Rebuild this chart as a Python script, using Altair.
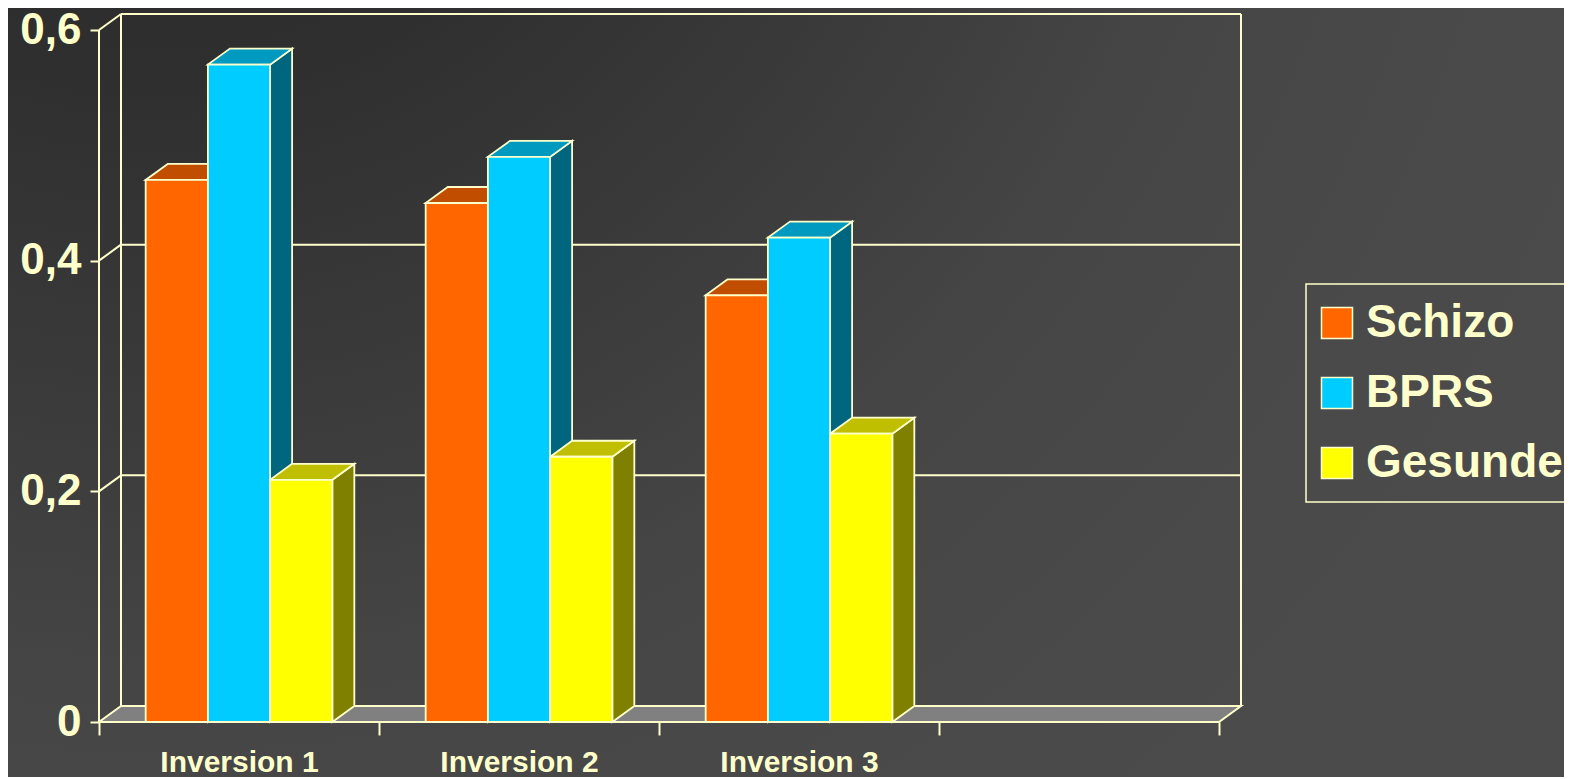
import altair as alt
import pandas as pd

# ---- data ----
CATEGORIES = ["Inversion 1", "Inversion 2", "Inversion 3"]
N_SLOTS = 4
SERIES = ["Schizo", "BPRS", "Gesunde"]
SCHIZO = [0.47, 0.45, 0.37]
BPRS = [0.57, 0.49, 0.42]
GESUNDE = [0.21, 0.23, 0.25]
Y_TICKS = [0, 0.2, 0.4, 0.6]

# ---- style ----
FRONT = ["#FF6600", "#00CCFF", "#FFFF00"]
TOP = ["#C04D00", "#0099BF", "#BFBF00"]
SIDE = ["#803300", "#006680", "#808000"]
LINE = "#FFFFCC"
FONT = "Liberation Sans"

W, H = 1142, 708          # plot area (front axis .. back wall)
PAD = {"left": 91, "top": 6, "right": 323, "bottom": 55}
PX_SLOT = 280.0
PX_UNIT = 1153.3
DX = 22 / PX_SLOT          # depth offset in slot units
DY = 16 / PX_UNIT          # depth offset in value units
XMAX = W / PX_SLOT
YMAX = H / PX_UNIT
BAR_W = 1 / 4.5
BAR_OFF = 0.75 / 4.5

xs = alt.Scale(domain=[0, XMAX], nice=False, zero=False)
ys = alt.Scale(domain=[0, YMAX], nice=False, zero=False)

values = {"Schizo": SCHIZO, "BPRS": BPRS, "Gesunde": GESUNDE}

front_rows, side_rows, top_rows = [], [], []
for si, s in enumerate(SERIES):
    for ci, cat in enumerate(CATEGORIES):
        v = values[s][ci]
        left = ci + BAR_OFF + si * BAR_W
        right = left + BAR_W
        bid = f"{s}-{ci}"
        front_rows.append({"series": s, "cat": cat, "left": left, "right": right, "value": v})
        side_rows += [
            {"series": s, "bar": bid, "x": right, "y": 0.0, "y2": v},
            {"series": s, "bar": bid, "x": right + DX, "y": DY, "y2": v + DY},
        ]
        top_rows += [
            {"series": s, "bar": bid, "y": v, "x": left, "x2": right},
            {"series": s, "bar": bid, "y": v + DY, "x": left + DX, "x2": right + DX},
        ]
front_df = pd.DataFrame(front_rows)
side_df = pd.DataFrame(side_rows)
top_df = pd.DataFrame(top_rows)

# frame: front axis, left wall diagonals, back wall, grid lines
XB = N_SLOTS + DX
ymax_tick = max(Y_TICKS)
seg = [{"x": 0, "y": 0, "x2": 0, "y2": ymax_tick},
       {"x": DX, "y": DY, "x2": DX, "y2": ymax_tick + DY},
       {"x": XB, "y": DY, "x2": XB, "y2": ymax_tick + DY}]
for t in Y_TICKS[1:]:
    seg.append({"x": 0, "y": t, "x2": DX, "y2": t + DY})
    seg.append({"x": DX, "y": t + DY, "x2": XB, "y2": t + DY})
seg_df = pd.DataFrame(seg)

floor_df = pd.DataFrame([
    {"y": 0.0, "x": 0.0, "x2": float(N_SLOTS)},
    {"y": DY, "x": DX, "x2": XB},
])

# ---- shared axes ----
expr_parts = []
for ci, cat in enumerate(CATEGORIES):
    expr_parts.append(f"datum.value == {ci + 0.5} ? '{cat}' : ")
x_label_expr = "".join(expr_parts) + "''"
x_tick_vals = [i * 0.5 for i in range(2 * N_SLOTS + 1)]

XAX = alt.Axis(
    title=None, values=x_tick_vals, domain=False, grid=False, tickSize=13, tickWidth=2,
    tickColor=LINE, zindex=2,
    tickOpacity={"condition": {"test": "datum.value % 1 != 0", "value": 0}, "value": 1},
    labelExpr=x_label_expr, labelFont=FONT, labelFontSize=30, labelFontWeight="bold",
    labelColor=LINE, labelPadding=12, labelOverlap=False, labelFlush=False)
YAX = alt.Axis(
    title=None, values=Y_TICKS, domain=False, grid=False, tickSize=9, tickWidth=2,
    tickColor=LINE, zindex=2,
    labelExpr="datum.value == 0 ? '0' : replace(format(datum.value, '.1f'), '.', ',')",
    labelFont=FONT, labelFontSize=44, labelFontWeight="bold",
    labelColor=LINE, labelPadding=9)

# background (radial gradient across whole canvas)
bg = alt.Chart(pd.DataFrame({"a": [0]})).mark_rect(
    fill=alt.RadialGradient(
        gradient="radial",
        stops=[alt.GradientStop(color="#272727", offset=0),
               alt.GradientStop(color="#2F2F2F", offset=0.3),
               alt.GradientStop(color="#3D3D3D", offset=0.55),
               alt.GradientStop(color="#454545", offset=0.68),
               alt.GradientStop(color="#494949", offset=0.85),
               alt.GradientStop(color="#4B4B4B", offset=1)],
        x1=0.1, y1=0.0, r1=0, x2=0.1, y2=0.0, r2=1.0),
).encode(
    x=alt.value(-PAD["left"]), x2=alt.value(W + PAD["right"]),
    y=alt.value(-PAD["top"]), y2=alt.value(H + PAD["bottom"]),
)

floor = alt.Chart(floor_df).mark_area(
    orient="horizontal", fill="#808080", stroke=LINE, strokeWidth=2
).encode(
    y=alt.Y("y:Q", scale=ys, axis=YAX),
    x=alt.X("x:Q", scale=xs, axis=XAX, stack=None),
    x2="x2:Q",
)

frame = alt.Chart(seg_df).mark_rule(color=LINE, strokeWidth=2).encode(
    x=alt.X("x:Q", scale=xs, axis=XAX),
    x2="x2:Q",
    y=alt.Y("y:Q", scale=ys, axis=YAX),
    y2="y2:Q",
)

sides = alt.Chart(side_df).mark_area(stroke=LINE, strokeWidth=1.8, opacity=1).encode(
    x=alt.X("x:Q", scale=xs, axis=XAX),
    y=alt.Y("y:Q", scale=ys, axis=YAX, stack=None),
    y2="y2:Q",
    detail="bar:N",
    color=alt.Color("series:N", scale=alt.Scale(domain=SERIES, range=SIDE), legend=None),
)

tops = alt.Chart(top_df).mark_area(orient="horizontal", stroke=LINE, strokeWidth=1.8, opacity=1).encode(
    y=alt.Y("y:Q", scale=ys, axis=YAX),
    x=alt.X("x:Q", scale=xs, axis=XAX, stack=None),
    x2="x2:Q",
    detail="bar:N",
    color=alt.Color("series:N", scale=alt.Scale(domain=SERIES, range=TOP), legend=None),
)

fronts = alt.Chart(front_df).mark_rect(stroke=LINE, strokeWidth=1.8, opacity=1).encode(
    x=alt.X("left:Q", scale=xs, axis=XAX),
    x2="right:Q",
    y=alt.Y("value:Q", scale=ys, axis=YAX),
    y2=alt.datum(0),
    color=alt.Color("series:N", scale=alt.Scale(domain=SERIES, range=FRONT),
                    legend=alt.Legend(
                        title=None, orient="none", legendX=1207, legendY=270,
                        symbolType="square", symbolSize=961, symbolStrokeColor=LINE,
                        symbolStrokeWidth=1.5, symbolOpacity=1, symbolOffset=-8,
                        labelFont=FONT, labelFontSize=46, labelFontWeight="bold",
                        labelColor=LINE, labelOffset=6, rowPadding=24,
                        padding=16, strokeColor=LINE, zindex=2,
                        labelLimit=0)),
)

chart = alt.layer(bg, floor, frame, sides, tops, fronts).resolve_scale(
    color="independent"
).properties(
    width=W, height=H,
    autosize=alt.AutoSizeParams(type="none"),
    padding=PAD,
    background="#3A3A3A",
).configure_view(stroke=None).configure_legend(strokeWidth=1.5)

chart.save("out.html", embed_options={"renderer": "svg", "actions": False})
